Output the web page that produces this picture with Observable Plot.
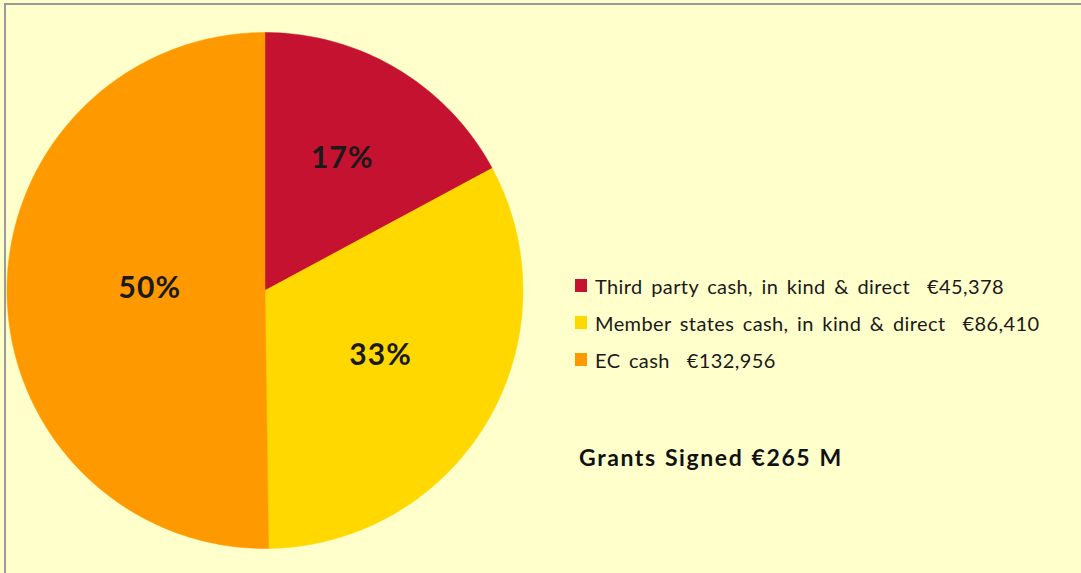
<!DOCTYPE html>
<html>
<head>
<meta charset="utf-8">
<script src="https://cdn.jsdelivr.net/npm/d3@7"></script>
<script src="https://cdn.jsdelivr.net/npm/@observablehq/plot@0.6"></script>
<style>
  html, body { margin: 0; padding: 0; width: 1081px; height: 573px; overflow: hidden; background: #FFFFCC; font-family: Lato, "Open Sans", sans-serif; }
  #frame { position: absolute; left: 4px; top: 3px; width: 1200px; height: 700px; border-top: 2px solid #9a9a9a; border-left: 2px solid #9a9a9a; box-sizing: border-box; }
  #chart { position: absolute; left: 0; top: 0; }
  #legend { position: absolute; left: 575px; top: 267px; font-size: 20px; color: #1a1a1a; letter-spacing: 0.4px; word-spacing: 3px; }
  #legend .row { display: flex; align-items: center; height: 37px; white-space: pre; }
  #legend .sw { width: 12px; height: 13px; margin-right: 8px; flex: none; }
  #note { position: absolute; left: 579px; top: 443px; font-size: 23px; font-weight: bold; color: #111; white-space: pre; letter-spacing: 1.6px; word-spacing: 1px; }
</style>
</head>
<body>
<div id="frame"></div>
<div id="chart"></div>
<div id="legend"></div>
<div id="note"></div>
<script>
// Data
const categories = ["Third party cash, in kind & direct", "Member states cash, in kind & direct", "EC cash"];
const values = [45378, 86410, 132956];
const valueLabels = ["€45,378", "€86,410", "€132,956"];
const colors = ["#C41230", "#FFD800", "#FF9900"];
const totalNote = "Grants Signed €265 M";

const W = 1081, H = 573;
const cx = 264.5, cy = 290, R = 258;

const total = d3.sum(values);
const pie = d3.pie().sort(null).value(d => d)(values);

// Build slice outlines in unit-circle coordinates (angle 0 at top, clockwise)
const pts = [];
pie.forEach((p, i) => {
  const cat = categories[i];
  pts.push({cat, x: 0, y: 0});
  const n = Math.max(8, Math.ceil((p.endAngle - p.startAngle) / (Math.PI / 180)));
  for (let k = 0; k <= n; k++) {
    const a = p.startAngle + (p.endAngle - p.startAngle) * k / n;
    pts.push({cat, x: Math.sin(a), y: Math.cos(a)});
  }
  pts.push({cat, x: 0, y: 0});
});

// label distance shrinks as the slice grows (best-fit style placement)
const labels = pie.map((p, i) => {
  const a = (p.startAngle + p.endAngle) / 2;
  const f = values[i] / total;
  const r = 0.657 - 0.42 * f;
  return {x: r * Math.sin(a), y: r * Math.cos(a), text: Math.round(f * 100) + "%"};
});

const chart = Plot.plot({
  width: W,
  height: H,
  style: {background: "transparent", overflow: "visible"},
  x: {domain: [-1, 1], range: [cx - R, cx + R], axis: null},
  y: {domain: [-1, 1], range: [cy + R, cy - R], axis: null},
  color: {domain: categories, range: colors},
  marks: [
    Plot.line(pts, {x: "x", y: "y", z: "cat", fill: "cat", stroke: "cat", strokeWidth: 0.5, curve: "linear"}),
    Plot.text(labels, {x: "x", y: "y", dy: -3, text: "text", fontSize: 30, fontWeight: "bold", fill: "#1a1a1a", fontFamily: "Lato, 'Open Sans', sans-serif"})
  ]
});
chart.querySelectorAll("text").forEach(t => t.style.letterSpacing = "1.2px");
document.getElementById("chart").appendChild(chart);

const legend = document.getElementById("legend");
categories.forEach((c, i) => {
  const row = document.createElement("div");
  row.className = "row";
  const sw = document.createElement("div");
  sw.className = "sw";
  sw.style.background = colors[i];
  const t = document.createElement("span");
  t.textContent = c + "  " + valueLabels[i];
  row.appendChild(sw);
  row.appendChild(t);
  legend.appendChild(row);
});
document.getElementById("note").textContent = totalNote;
</script>
</body>
</html>
